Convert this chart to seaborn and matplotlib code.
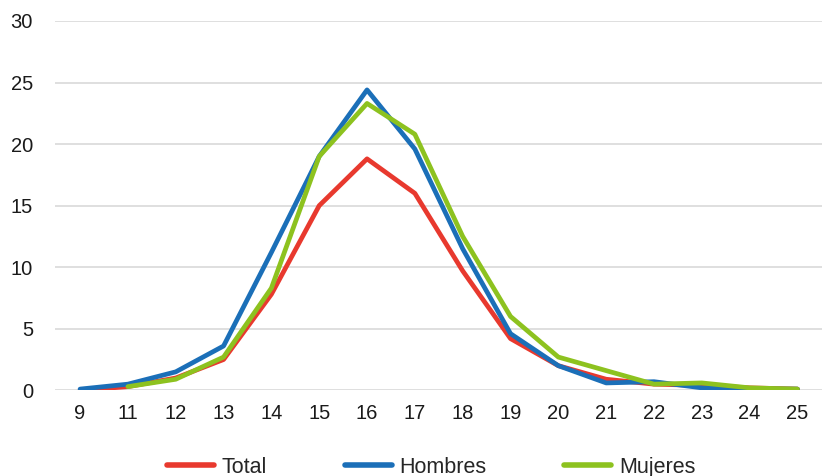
import matplotlib
matplotlib.use("Agg")
import matplotlib.pyplot as plt
import seaborn as sns
import pandas as pd
import numpy as np

edades = ["9", "11", "12", "13", "14", "15", "16", "17", "18", "19", "20", "21", "22", "23", "24", "25"]
total = [0.0, 0.3, 1.0, 2.5, 7.8, 15.0, 18.8, 16.0, 9.7, 4.2, 2.0, 0.9, 0.5, 0.4, 0.2, 0.1]
hombres = [0.1, 0.5, 1.5, 3.6, 11.2, 19.0, 24.4, 19.6, 11.5, 4.6, 2.0, 0.6, 0.7, 0.2, 0.1, 0.1]
mujeres = [np.nan, 0.3, 0.9, 2.7, 8.3, 19.0, 23.3, 20.8, 12.5, 6.0, 2.7, 1.6, 0.5, 0.6, 0.2, 0.1]


def main():
    sns.set_style("white")
    plt.rcParams["font.family"] = ["Liberation Sans", "DejaVu Sans"]

    df = pd.DataFrame({"pos": range(len(edades)), "Total": total,
                       "Hombres": hombres, "Mujeres": mujeres})
    long_df = df.melt(id_vars="pos", var_name="serie", value_name="valor").dropna()

    fig, ax = plt.subplots(figsize=(8.24, 4.76), dpi=100)
    fig.subplots_adjust(left=0.067, right=0.998, top=0.956, bottom=0.18)
    palette = {"Total": "#E8392E", "Hombres": "#1B6FB8", "Mujeres": "#8DC21F"}
    sns.lineplot(data=long_df, x="pos", y="valor", hue="serie", palette=palette,
                 lw=3.4, ax=ax, zorder=3)

    ax.set_ylim(0, 30)
    ax.set_yticks(range(0, 31, 5))
    ax.set_xlim(-0.52, len(edades) - 0.48)
    ax.set_xticks(range(len(edades)))
    ax.set_xticklabels(edades)
    ax.tick_params(axis="both", length=0, labelsize=14.5, colors="#1a1a1a")
    ax.tick_params(axis="y", pad=16)
    ax.tick_params(axis="x", pad=10)
    ax.yaxis.grid(True, color="#D9D9D9", lw=1.2, zorder=0)
    ax.set_axisbelow(True)
    for s in ax.spines.values():
        s.set_visible(False)
    ax.set_xlabel("")
    ax.set_ylabel("")

    handles, labels = ax.get_legend_handles_labels()
    for h in handles:
        h.set_linewidth(4)
    ax.legend(handles, labels, loc="upper center", bbox_to_anchor=(0.49, -0.127),
              ncol=3, frameon=False, fontsize=15.5, handlelength=2.2,
              columnspacing=3.6, handletextpad=0.35)

    plt.savefig("out.png", dpi=100)


if __name__ == "__main__":
    main()
